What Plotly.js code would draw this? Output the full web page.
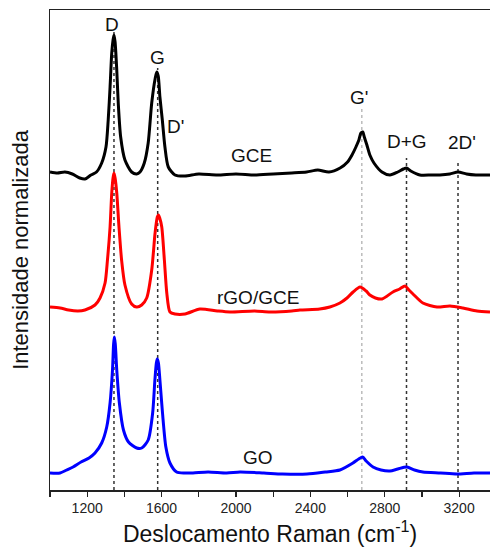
<!DOCTYPE html>
<html>
<head>
<meta charset="utf-8">
<script src="https://cdn.plot.ly/plotly-3.0.1.min.js"></script>
<style>html,body{margin:0;padding:0;background:#fff;}#chart{width:490px;height:549px;}</style>
</head>
<body>
<div id="chart"></div>
<script>
// Raman shift (cm-1) and stacked normalized intensity (arbitrary units, offset per spectrum)
const gceX = [1000,1040,1080,1120,1160,1188,1220,1250,1278,1301,1313,1323,1332,1339,1344,1350,1359,1367,1380,1403,1439,1466,1484,1507,1528,1547,1566,1574,1582,1591,1604,1618,1636,1672,1726,1800,1900,2000,2100,2200,2300,2380,2440,2500,2560,2600,2624,2645,2661,2672,2682,2690,2704,2720,2742,2785,2828,2870,2900,2917,2940,2989,3050,3097,3150,3194,3240,3290,3366];
const gceY = [318,317,318,316,312,311,315,318,327,343,370,403,437,450,455,448,420,387,353,330,318,316,318,327,347,387,412,418,414,393,370,343,323,315,314,316,315,316,315,316,317,318,320,318,322,328,335,343,350,357,358,353,345,335,327,318,315,318,321,322,319,315,315,315,316,318,316,315,315];

const rgoX = [1000,1054,1100,1150,1188,1242,1269,1296,1309,1323,1332,1339,1344,1350,1359,1371,1385,1403,1439,1466,1493,1520,1547,1565,1577,1583,1590,1601,1615,1628,1645,1672,1726,1806,1900,1968,2100,2183,2300,2344,2450,2505,2559,2597,2630,2667,2700,2720,2750,2785,2844,2880,2909,2930,2952,3005,3081,3151,3220,3296,3366];
const rgoY = [183,182,180,179,180,185,192,207,230,263,297,312,317,312,297,263,230,205,186,183,185,192,220,257,273,275,272,263,230,197,178,176,176,181,179,178,179,178,179,180,181,183,187,192,198,203,199,195,192,191,198,201,204,200,196,187,183,184,182,179,178];

const goX = [1000,1054,1090,1124,1167,1210,1242,1278,1305,1323,1336,1342,1346,1351,1359,1373,1395,1422,1466,1493,1528,1552,1564,1572,1577,1583,1591,1605,1623,1645,1681,1726,1769,1850,1950,2022,2150,2250,2382,2480,2559,2629,2660,2681,2700,2737,2780,2828,2870,2919,2960,3005,3100,3188,3280,3366];
const goY = [17,17,20,23,28,32,37,47,63,87,120,146,153,146,120,87,60,48,42,42,50,77,110,127,131,127,110,77,43,27,18,17,17,18,17,18,17,16,16,18,20,27,31,33,29,23,20,19,21,23,20,18,17,16,17,17];

// Band positions (cm-1) and the top of their guide lines
const bandNames = ["D", "G", "G'", "D+G", "2D'"];
const bandPos   = [1344, 1579, 2677, 2917, 3194];
const bandTop   = [458, 422, 382, 332, 330];

const seriesNames = ["GCE", "rGO/GCE", "GO"];
</script>
<script>
const traces = [];
bandPos.forEach((p, i) => {
  const light = bandNames[i] === "G'";
  traces.push({
    x: [p, p], y: [0, bandTop[i]], mode: 'lines', hoverinfo: 'skip', showlegend: false,
    line: {color: light ? '#999999' : '#333333', width: light ? 1 : 1.5, dash: 'dot'}
  });
});
const lineOf = c => ({color: c, width: 3, shape: 'spline', smoothing: 0.7});
traces.push({x: gceX, y: gceY, mode: 'lines', name: seriesNames[0], line: lineOf('#000000')});
traces.push({x: rgoX, y: rgoY, mode: 'lines', name: seriesNames[1], line: lineOf('#ff0000')});
traces.push({x: goX, y: goY, mode: 'lines', name: seriesNames[2], line: lineOf('#0000ff')});

const f = {family: 'Liberation Sans, Arial, sans-serif', size: 19, color: '#111'};
const ann = (x, y, t) => ({x, y, text: t, showarrow: false, xref: 'x', yref: 'y', font: f});
const annotations = [
  ann(1333, 466, bandNames[0]),
  ann(1578, 433, bandNames[1]),
  ann(1675, 364, "D'"),
  ann(2664, 393, bandNames[2]),
  ann(2922, 349, bandNames[3]),
  ann(3213, 348, bandNames[4]),
  ann(2082, 335, seriesNames[0]),
  ann(2116, 193, seriesNames[1]),
  ann(2118, 33, seriesNames[2])
];

const layout = {
  width: 490, height: 549,
  margin: {l: 50, r: 0, t: 10, b: 59},
  paper_bgcolor: '#fff', plot_bgcolor: '#fff',
  showlegend: false,
  font: {family: 'Liberation Sans, Arial, sans-serif', color: '#111'},
  xaxis: {
    range: [1000, 3366], showgrid: false, zeroline: false,
    showline: true, linecolor: '#222', linewidth: 1.5, mirror: true,
    ticks: 'outside', ticklen: 5, tickcolor: '#222', tickwidth: 1.2,
    tick0: 1200, dtick: 400,
    minor: {dtick: 200, tick0: 1000, ticks: 'outside', ticklen: 5, tickcolor: '#222', showgrid: false},
    tickfont: {size: 14, color: '#222'},
    title: {text: 'Deslocamento Raman (cm<sup>-1</sup>)', font: {size: 23, color: '#111'}, standoff: 10}
  },
  yaxis: {
    range: [0, 480], showgrid: false, zeroline: false,
    showline: true, linecolor: '#222', linewidth: 1.5,
    showticklabels: false, ticks: '',
    title: {text: 'Intensidade normalizada', font: {size: 22, color: '#111'}, standoff: 14}
  },
  annotations
};
Plotly.newPlot('chart', traces, layout, {staticPlot: true, displayModeBar: false});
</script>
</body>
</html>
